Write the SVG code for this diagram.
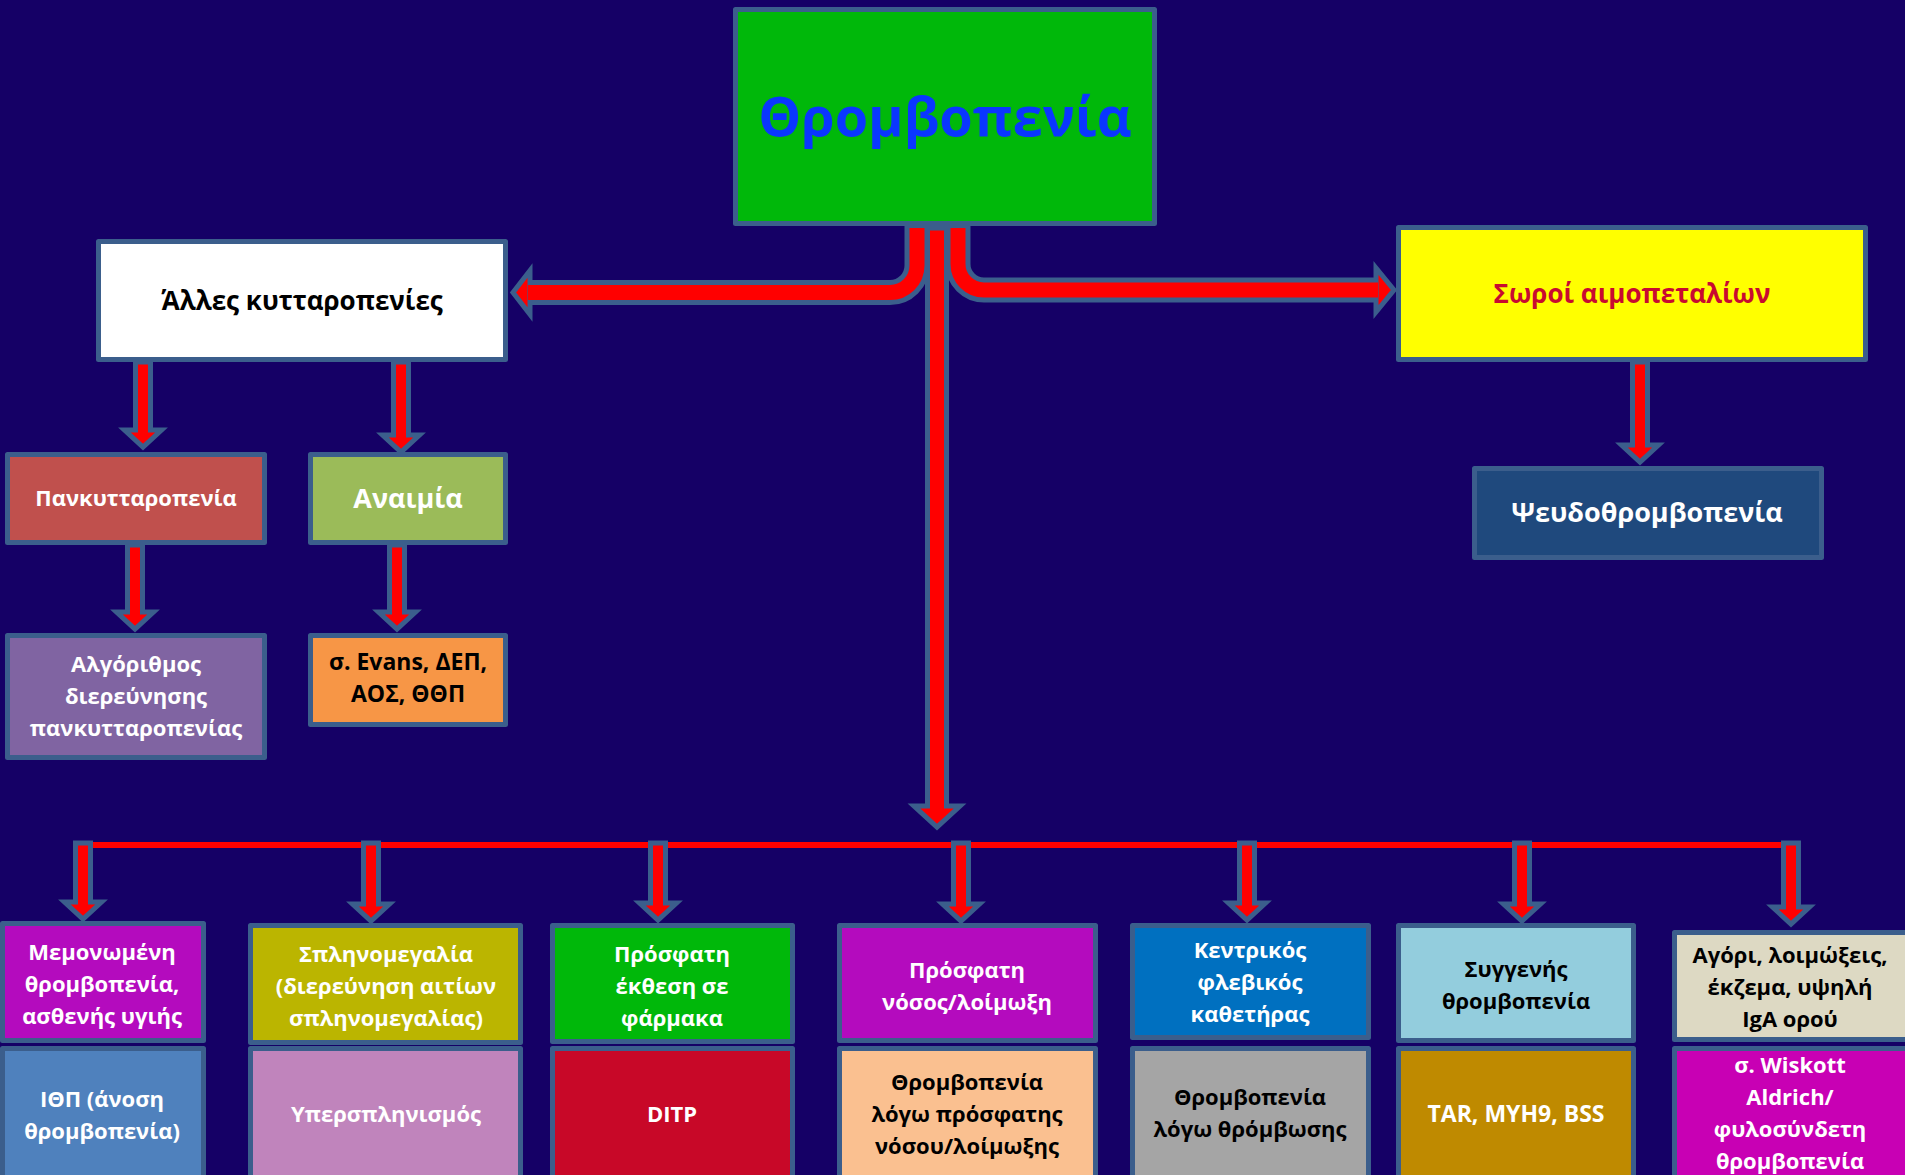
<svg xmlns="http://www.w3.org/2000/svg" width="1905" height="1175" viewBox="0 0 1905 1175">
<style>
.box{stroke:#3B5E8C;stroke-width:5;stroke-linejoin:round}
.arr{fill:#FF0000;stroke:#3B5E8C;stroke-width:5;stroke-linejoin:miter}
.t{font-family:"Open Sans","Noto Sans","DejaVu Sans",sans-serif;font-weight:700;text-anchor:middle}
.s22{font-size:22px}
.w{fill:#FFFFFF}
.k{fill:#000000}
</style>
<rect x="0" y="0" width="1905" height="1175" fill="#150066"/>

<g id="connectors">
  <path d="M917,226 L917,265.5 A27,27 0 0 1 890,292.5 L528,292.5" fill="none" stroke="#3B5E8C" stroke-width="25"/>
  <path d="M958,226 L958,264 A26,26 0 0 0 984,290 L1378,290" fill="none" stroke="#3B5E8C" stroke-width="25"/>
  <polygon class="arr" points="530,270.5 530,314.5 513,292.5"/>
  <polygon class="arr" points="1376,268 1376,312 1394,290"/>
  <path d="M917,228 L917,265.5 A27,27 0 0 1 890,292.5 L528,292.5" fill="none" stroke="#FF0000" stroke-width="15"/>
  <path d="M958,228 L958,264 A26,26 0 0 0 984,290 L1378,290" fill="none" stroke="#FF0000" stroke-width="15"/>
  <polygon class="arr" points="927.5,228 927.5,806 914,806 937,827 960,806 946.5,806 946.5,228"/>
  <polygon class="arr" points="135.5,362 135.5,430 124.5,430 143,447 161.5,430 150.5,430 150.5,362"/>
  <polygon class="arr" points="393.5,362 393.5,435 382.5,435 401,452 419.5,435 408.5,435 408.5,362"/>
  <polygon class="arr" points="127.5,545 127.5,612 116.5,612 135,629 153.5,612 142.5,612 142.5,545"/>
  <polygon class="arr" points="389.5,545 389.5,612 378.5,612 397,629 415.5,612 404.5,612 404.5,545"/>
  <polygon class="arr" points="1632.5,362 1632.5,445 1621.5,445 1640,462 1658.5,445 1647.5,445 1647.5,362"/>
  <rect x="83" y="842" width="1709" height="6" fill="#FF0000"/>
  <polygon class="arr" points="75.5,843 75.5,902 64.5,902 83,919 101.5,902 90.5,902 90.5,843"/>
  <polygon class="arr" points="363.5,843 363.5,904 352.5,904 371,921 389.5,904 378.5,904 378.5,843"/>
  <polygon class="arr" points="650.5,843 650.5,903 639.5,903 658,920 676.5,903 665.5,903 665.5,843"/>
  <polygon class="arr" points="953.5,843 953.5,904 942.5,904 961,921 979.5,904 968.5,904 968.5,843"/>
  <polygon class="arr" points="1239.5,843 1239.5,903 1228.5,903 1247,920 1265.5,903 1254.5,903 1254.5,843"/>
  <polygon class="arr" points="1514.5,843 1514.5,904 1503.5,904 1522,921 1540.5,904 1529.5,904 1529.5,843"/>
  <polygon class="arr" points="1783.5,843 1783.5,907 1772.5,907 1791,924 1809.5,907 1798.5,907 1798.5,843"/>
</g>

<g id="n-title">
  <rect class="box" x="735.5" y="9.5" width="419" height="214" fill="#00B80A"/>
  <text class="t" x="945" y="136" font-size="54" fill="#0A36FF">Θρομβοπενία</text>
</g>
<g id="n-alles">
  <rect class="box" x="98.5" y="241.5" width="407" height="118" fill="#FFFFFF"/>
  <text class="t k" x="302" y="310" font-size="26">Άλλες κυτταροπενίες</text>
</g>
<g id="n-soroi">
  <rect class="box" x="1398.5" y="227.5" width="467" height="132" fill="#FFFF00"/>
  <text class="t" x="1632" y="303" font-size="26" fill="#C80A30">Σωροί αιμοπεταλίων</text>
</g>
<g id="n-pank">
  <rect class="box" x="7.5" y="454.5" width="257" height="88" fill="#C0504D"/>
  <text class="t w s22" x="136" y="506">Πανκυτταροπενία</text>
</g>
<g id="n-anaimia">
  <rect class="box" x="310.5" y="454.5" width="195" height="88" fill="#9BBB59"/>
  <text class="t w" x="408" y="508" font-size="27">Αναιμία</text>
</g>
<g id="n-algo">
  <rect class="box" x="7.5" y="635.5" width="257" height="122" fill="#8064A2"/>
  <text class="t w s22" x="136" y="672">Αλγόριθμος</text>
  <text class="t w s22" x="136" y="704">διερεύνησης</text>
  <text class="t w s22" x="136" y="736">πανκυτταροπενίας</text>
</g>
<g id="n-evans">
  <rect class="box" x="310.5" y="635.5" width="195" height="89" fill="#F79646"/>
  <text class="t k" x="408" y="670" font-size="23">σ. Evans, ΔΕΠ,</text>
  <text class="t k" x="408" y="702" font-size="23">ΑΟΣ, ΘΘΠ</text>
</g>
<g id="n-pseudo">
  <rect class="box" x="1474.5" y="468.5" width="347" height="89" fill="#1F497D"/>
  <text class="t w" x="1647" y="522" font-size="27">Ψευδοθρομβοπενία</text>
</g>

<g id="n-b1">
  <rect class="box" x="2.5" y="923.5" width="201" height="117" fill="#B40BBE"/>
  <text class="t w s22" x="102" y="960">Μεμονωμένη</text>
  <text class="t w s22" x="102" y="992">θρομβοπενία,</text>
  <text class="t w s22" x="102" y="1024">ασθενής υγιής</text>
</g>
<g id="n-b1b">
  <rect class="box" x="2.5" y="1048.5" width="201" height="140" fill="#4F81BD"/>
  <text class="t w s22" x="102" y="1107">ΙΘΠ (άνοση</text>
  <text class="t w s22" x="102" y="1139">θρομβοπενία)</text>
</g>
<g id="n-b2">
  <rect class="box" x="250.5" y="925.5" width="270" height="117" fill="#BBB500"/>
  <text class="t w s22" x="386" y="962">Σπληνομεγαλία</text>
  <text class="t w s22" x="386" y="994">(διερεύνηση αιτίων</text>
  <text class="t w s22" x="386" y="1026">σπληνομεγαλίας)</text>
</g>
<g id="n-b2b">
  <rect class="box" x="250.5" y="1048.5" width="270" height="140" fill="#C084BC"/>
  <text class="t w s22" x="386" y="1122">Υπερσπληνισμός</text>
</g>
<g id="n-b3">
  <rect class="box" x="552.5" y="925.5" width="240" height="116" fill="#00B80A"/>
  <text class="t w s22" x="672" y="962">Πρόσφατη</text>
  <text class="t w s22" x="672" y="994">έκθεση σε</text>
  <text class="t w s22" x="672" y="1026">φάρμακα</text>
</g>
<g id="n-b3b">
  <rect class="box" x="552.5" y="1048.5" width="240" height="140" fill="#C80828"/>
  <text class="t w s22" x="672" y="1122">DITP</text>
</g>
<g id="n-b4">
  <rect class="box" x="839.5" y="925.5" width="256" height="115" fill="#B40BBE"/>
  <text class="t w s22" x="967" y="978">Πρόσφατη</text>
  <text class="t w s22" x="967" y="1010">νόσος/λοίμωξη</text>
</g>
<g id="n-b4b">
  <rect class="box" x="839.5" y="1048.5" width="256" height="140" fill="#FAC090"/>
  <text class="t k s22" x="967" y="1090">Θρομβοπενία</text>
  <text class="t k s22" x="967" y="1122">λόγω πρόσφατης</text>
  <text class="t k s22" x="967" y="1154">νόσου/λοίμωξης</text>
</g>
<g id="n-b5">
  <rect class="box" x="1132.5" y="925.5" width="236" height="112" fill="#0070C0"/>
  <text class="t w s22" x="1250" y="958">Κεντρικός</text>
  <text class="t w s22" x="1250" y="990">φλεβικός</text>
  <text class="t w s22" x="1250" y="1022">καθετήρας</text>
</g>
<g id="n-b5b">
  <rect class="box" x="1132.5" y="1048.5" width="236" height="140" fill="#A5A5A5"/>
  <text class="t k s22" x="1250" y="1105">Θρομβοπενία</text>
  <text class="t k s22" x="1250" y="1137">λόγω θρόμβωσης</text>
</g>
<g id="n-b6">
  <rect class="box" x="1398.5" y="925.5" width="235" height="115" fill="#93CDDD"/>
  <text class="t k s22" x="1516" y="977">Συγγενής</text>
  <text class="t k s22" x="1516" y="1009">θρομβοπενία</text>
</g>
<g id="n-b6b">
  <rect class="box" x="1398.5" y="1048.5" width="235" height="140" fill="#BF8A00"/>
  <text class="t w" x="1516" y="1122" font-size="23">TAR, MYH9, BSS</text>
</g>
<g id="n-b7">
  <rect class="box" x="1674.5" y="932.5" width="240" height="107" fill="#DDD9C3"/>
  <text class="t k s22" x="1790" y="963">Αγόρι, λοιμώξεις,</text>
  <text class="t k s22" x="1790" y="995">έκζεμα, υψηλή</text>
  <text class="t k s22" x="1790" y="1027">IgA ορού</text>
</g>
<g id="n-b7b">
  <rect class="box" x="1674.5" y="1048.5" width="240" height="140" fill="#C800B4"/>
  <text class="t w s22" x="1790" y="1073">σ. Wiskott</text>
  <text class="t w s22" x="1790" y="1105">Aldrich/</text>
  <text class="t w s22" x="1790" y="1137">φυλοσύνδετη</text>
  <text class="t w s22" x="1790" y="1169">θρομβοπενία</text>
</g>
</svg>
